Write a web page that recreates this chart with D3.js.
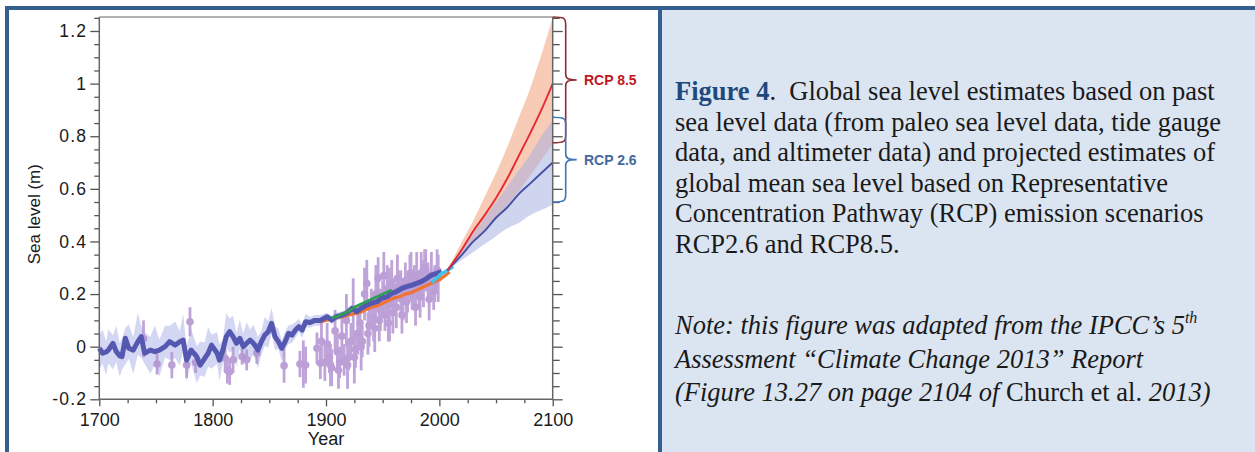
<!DOCTYPE html>
<html><head><meta charset="utf-8">
<script src="https://cdn.jsdelivr.net/npm/d3@7/dist/d3.min.js"></script>
<style>
html,body{margin:0;padding:0;background:#fff;}
svg{display:block;}
</style></head>
<body>
<svg id="c" width="1255" height="452"></svg>
<script>
// ---------- DATA ----------
const yMajorTicks = [-0.2, 0, 0.2, 0.4, 0.6, 0.8, 1, 1.2];
const xMajorTicks = [1700, 1800, 1900, 2000, 2100];

// Reconstruction (thick blue line) with uncertainty band
const jevYears = [1700,1703,1706,1708,1712,1715,1718,1720,1723,1726,1730,1734,1737,1740,1745,1749,1753,1758,1762,1767,1771,1774,1777,1781,1786,1789,1793,1796,1799,1804,1806,1809,1812,1815,1818,1821,1824,1827,1830,1833,1836,1840,1843,1846,1849,1852,1855,1858,1861,1864,1867,1870,1873,1876,1879,1882,1886,1890,1895,1901,1905,1909,1914,1918,1923,1927,1931,1936,1940,1945,1949,1954,1958,1962,1967,1971,1976,1980,1984,1989,1993,1998,2002];
const jevVals = [-0.006,-0.025,-0.02,-0.013,0.013,-0.019,-0.035,-0.038,0.032,-0.006,
 -0.013,0.019,0.038,-0.025,-0.013,-0.019,-0.013,0.0,0.019,0.006,
 0.019,0.025,-0.051,-0.013,-0.038,-0.07,-0.044,-0.025,0.006,-0.025,
 -0.051,-0.013,0.038,0.057,0.038,0.013,0.032,0.0,0.013,0.025,
 0.013,-0.013,0.019,0.044,0.057,0.089,0.038,0.019,-0.006,0.019,
 0.051,0.044,0.063,0.076,0.063,0.095,0.092,0.1,0.1,0.114,
 0.101,0.114,0.12,0.127,0.146,0.133,0.146,0.158,0.165,0.171,
 0.184,0.19,0.203,0.209,0.222,0.228,0.234,0.241,0.247,0.26,
 0.272,0.279,0.285];
// band offsets above and below the line
const jevBandUp = [0.05,0.09,0.04,0.08,0.03,0.10,0.05,0.07,0.04,0.09,
 0.05,0.11,0.04,0.08,0.05,0.10,0.04,0.08,0.06,0.09,
 0.04,0.10,0.05,0.08,0.04,0.09,0.06,0.10,0.04,0.08,
 0.06,0.04,0.09,0.05,0.08,0.04,0.07,0.05,0.08,0.04,
 0.07,0.05,0.04,0.07,0.04,0.06,0.04,0.05,0.03,0.04,
 0.03,0.04,0.03,0.03,0.02,0.03,0.02,0.02,0.02,0.015,
 0.015,0.015,0.015,0.015,0.015,0.015,0.015,0.015,0.015,0.015,
 0.015,0.015,0.015,0.015,0.015,0.015,0.015,0.015,0.015,0.015,
 0.015,0.015,0.015];
const jevBandDn = [0.08,0.04,0.09,0.05,0.10,0.04,0.08,0.05,0.10,0.04,
 0.09,0.05,0.08,0.04,0.09,0.05,0.10,0.04,0.07,0.05,
 0.09,0.04,0.08,0.05,0.10,0.04,0.07,0.05,0.09,0.04,
 0.08,0.05,0.04,0.08,0.05,0.09,0.04,0.07,0.05,0.08,
 0.04,0.07,0.05,0.04,0.06,0.04,0.05,0.03,0.05,0.03,
 0.04,0.03,0.03,0.02,0.03,0.02,0.02,0.02,0.02,0.015,
 0.015,0.015,0.015,0.015,0.015,0.015,0.015,0.015,0.015,0.015,
 0.015,0.015,0.015,0.015,0.015,0.015,0.015,0.015,0.015,0.015,
 0.015,0.015,0.015];

// Paleo (salt-marsh) points with error bars
const paleoYears = [1739,1751,1764,1777,1780,1785,1811,1813,1815,1818,1826,1830,1839,1863,1877,1880,1882,1892,1895,
 1896,1899,1901,1903,1905,1908,1910,1912,1914,1916,1918,1920,1922,1924,1926,1928,1930,1932,1934,1936,1938,1940,1942,1944,1946,1948,1950,1952,1954,1956,1958,1960,1962,1964,1966,1968,1970,1972,1974,1976,1978,1980,1982,1984,1986,1988,1990,1993,1996,1999,
 1904,1911,1919,1925,1931,1937,1943,
 1947,1951,1955,1959,1963,1967,1971,1975,1979,1983,1987,1991,1995,1998];
const paleoVals = [0.03,-0.066,-0.07,-0.07,0.095,-0.06,-0.044,-0.09,-0.095,-0.05,-0.038,-0.05,-0.025,-0.072,-0.066,-0.066,-0.07,-0.006,-0.063,
 0.02,-0.06,0.01,-0.04,-0.08,0.06,-0.02,-0.06,0.04,-0.05,0.10,-0.04,0.02,0.14,-0.01,0.05,0.09,0.02,0.20,0.24,0.08,0.15,0.11,0.20,0.26,0.14,0.18,0.12,0.22,0.16,0.24,0.19,0.15,0.23,0.20,0.18,0.25,0.21,0.26,0.20,0.23,0.27,0.22,0.28,0.24,0.29,0.25,0.27,0.24,0.26,
 -0.07,-0.09,-0.07,-0.04,0.0,0.05,0.07,
 0.10,0.27,0.09,0.13,0.26,0.12,0.17,0.28,0.15,0.19,0.30,0.18,0.21,0.29];
const paleoErr = [0.07,0.04,0.05,0.05,0.055,0.04,0.04,0.05,0.05,0.05,0.03,0.04,0.04,0.065,0.05,0.09,0.07,0.06,0.06,
 0.09,0.07,0.08,0.06,0.07,0.08,0.07,0.06,0.09,0.06,0.10,0.05,0.07,0.12,0.07,0.08,0.06,0.06,0.10,0.09,0.08,0.07,0.09,0.11,0.08,0.08,0.07,0.06,0.09,0.14,0.09,0.07,0.08,0.06,0.09,0.08,0.07,0.08,0.09,0.06,0.08,0.09,0.07,0.08,0.09,0.08,0.07,0.09,0.07,0.09,
 0.08,0.07,0.09,0.10,0.09,0.08,0.09,
 0.08,0.09,0.07,0.08,0.09,0.07,0.08,0.08,0.07,0.08,0.07,0.08,0.07,0.08];

// Tide gauge reconstructions
const greenYears = [1905,1910,1915,1920,1925,1930,1935,1940,1945,1950,1955,1958];
const greenVals  = [0.11,0.115,0.125,0.135,0.15,0.16,0.17,0.18,0.19,0.2,0.21,0.215];
const orangeYears = [1885,1890,1895,1900,1905,1910,1915,1920,1925,1930,1935,1940,1945,1950,1955,1960,1965,1970,1975,1980,1985,1990,1995,2000,2005,2009];
const orangeVals  = [0.09,0.1,0.095,0.1,0.105,0.11,0.115,0.12,0.125,0.13,0.14,0.15,0.155,0.165,0.175,0.185,0.19,0.2,0.205,0.215,0.225,0.235,0.245,0.255,0.27,0.285];
// Satellite altimetry
const cyanYears = [1993,1995,1997,1999,2001,2003,2005,2007,2009,2011,2012];
const cyanVals  = [0.245,0.25,0.26,0.265,0.275,0.28,0.285,0.29,0.295,0.3,0.305];

// Projections
const projYears = [2007,2020,2030,2040,2050,2060,2070,2080,2090,2100];
const rcp85Mid = [0.29,0.37,0.44,0.50,0.565,0.64,0.725,0.81,0.90,1.00];
const rcp85Hi  = [0.29,0.40,0.48,0.57,0.66,0.76,0.87,0.98,1.11,1.25];
const rcp85Lo  = [0.29,0.35,0.40,0.44,0.49,0.54,0.59,0.65,0.71,0.77];
const rcp26Mid = [0.29,0.35,0.40,0.44,0.49,0.53,0.58,0.62,0.66,0.70];
const rcp26Hi  = [0.29,0.37,0.43,0.49,0.55,0.61,0.67,0.73,0.80,0.86];
const rcp26Lo  = [0.29,0.33,0.36,0.39,0.42,0.45,0.47,0.50,0.52,0.54];

// Braces (likely range at 2100)
const braceNames = ["RCP 8.5", "RCP 2.6"];
const braceLo = [0.775, 0.55];
const braceHi = [1.253, 0.872];

// ---------- DRAW ----------
const svg = d3.select("#c");
const x = d3.scaleLinear().domain([1700, 2100]).range([99.3, 552.7]);
const y = d3.scaleLinear().domain([-0.2, 1.2]).range([399.3, 31]);
const yTop = 1.253;
const SANS = "Liberation Sans, Arial, Helvetica, sans-serif";
const SERIF = "Liberation Serif, 'Times New Roman', serif";

// frame / panels
svg.append("rect").attr("x",0).attr("y",0).attr("width",1255).attr("height",452).attr("fill","#fff");
svg.append("rect").attr("x",662).attr("y",10).attr("width",593).attr("height",442).attr("fill","#dbe5f1");
svg.append("rect").attr("x",5).attr("y",6).attr("width",1250).attr("height",4).attr("fill","#365f91");
svg.append("rect").attr("x",5).attr("y",6).attr("width",4).attr("height",446).attr("fill","#365f91");
svg.append("rect").attr("x",658).attr("y",6).attr("width",4).attr("height",446).attr("fill","#365f91");

const plot = svg.append("g");

// reconstruction band
const jev = jevYears.map((d,i)=>({yr:d, v:jevVals[i], up:jevBandUp[i], dn:jevBandDn[i]}));
plot.append("path").datum(jev)
  .attr("d", d3.area().x(d=>x(d.yr)).y0(d=>y(d.v-d.dn)).y1(d=>y(d.v+d.up)))
  .attr("fill","#cdd0f1").attr("opacity",0.85);

// paleo error bars
const paleo = paleoYears.map((d,i)=>({yr:d, v:paleoVals[i], e:paleoErr[i]}));
const pg = plot.append("g").attr("opacity",0.85);
pg.selectAll("line").data(paleo).join("line")
  .attr("x1",d=>x(d.yr)).attr("x2",d=>x(d.yr))
  .attr("y1",d=>y(d.v-d.e)).attr("y2",d=>y(d.v+d.e))
  .attr("stroke","#b595d3").attr("stroke-width",2.8);
pg.selectAll("circle").data(paleo).join("circle")
  .attr("cx",d=>x(d.yr)).attr("cy",d=>y(d.v)).attr("r",3.8)
  .attr("fill","#b08fcf");

// projections bands
const proj = projYears.map((d,i)=>({yr:d, m85:rcp85Mid[i], h85:rcp85Hi[i], l85:rcp85Lo[i], m26:rcp26Mid[i], h26:rcp26Hi[i], l26:rcp26Lo[i]}));
plot.append("path").datum(proj)
  .attr("d", d3.area().curve(d3.curveMonotoneX).x(d=>x(d.yr)).y0(d=>y(d.l85)).y1(d=>y(d.h85)))
  .attr("fill","#f6bea5").attr("opacity",0.8);
plot.append("path").datum(proj)
  .attr("d", d3.area().curve(d3.curveMonotoneX).x(d=>x(d.yr)).y0(d=>y(d.l26)).y1(d=>y(d.h26)))
  .attr("fill","#a7b0e2").attr("opacity",0.55);

const lineOf = (ys, vs) => ys.map((d,i)=>({yr:d, v:vs[i]}));
const ln = d3.line().x(d=>x(d.yr)).y(d=>y(d.v));
const lnS = d3.line().curve(d3.curveMonotoneX).x(d=>x(d.yr)).y(d=>y(d.v));

plot.append("path").datum(lineOf(orangeYears, orangeVals)).attr("d", ln)
  .attr("fill","none").attr("stroke","#f07331").attr("stroke-width",3.2);
plot.append("path").datum(jev).attr("d", ln)
  .attr("fill","none").attr("stroke","#5558b0").attr("stroke-width",5).attr("stroke-linejoin","round");
plot.append("path").datum(lineOf(greenYears, greenVals)).attr("d", ln)
  .attr("fill","none").attr("stroke","#2f9e55").attr("stroke-width",2.8);
plot.append("path").datum(lineOf(cyanYears, cyanVals)).attr("d", ln)
  .attr("fill","none").attr("stroke","#41c4ea").attr("stroke-width",3.4);

plot.append("path").datum(lineOf(projYears, rcp26Mid)).attr("d", lnS)
  .attr("fill","none").attr("stroke","#4450a6").attr("stroke-width",1.9);
plot.append("path").datum(lineOf(projYears, rcp85Mid)).attr("d", lnS)
  .attr("fill","none").attr("stroke","#e62a33").attr("stroke-width",1.9);

// axes
const fmt = d => d === 0 ? "0" : (Number.isInteger(d) ? String(d) : d.toFixed(1));
const yMinor = d3.range(-0.2, 1.2501, 0.05).map(v=>+v.toFixed(2)).filter(v=>!yMajorTicks.some(m=>Math.abs(m-v)<1e-6));
const xMinor = d3.range(1700, 2101, 25).filter(v=>!xMajorTicks.includes(v));

const axisColor = "#666";
function styleAxis(g){
  g.selectAll(".domain").remove();
  g.selectAll(".tick line").attr("stroke","#555").attr("stroke-width",1.3);
}
// left
svg.append("g").attr("transform",`translate(${x(1700)},0)`)
  .call(d3.axisLeft(y).tickValues(yMajorTicks).tickFormat(fmt).tickSize(9).tickPadding(3))
  .call(styleAxis)
  .selectAll("text").attr("font-family",SANS).attr("font-size",17.5).attr("fill","#1a1a1a").attr("letter-spacing","1.2px");
svg.append("g").attr("transform",`translate(${x(1700)},0)`)
  .call(d3.axisLeft(y).tickValues(yMinor).tickFormat("").tickSize(5)).call(styleAxis);
// right
svg.append("g").attr("transform",`translate(${x(2100)},0)`)
  .call(d3.axisRight(y).tickValues(yMajorTicks).tickFormat("").tickSize(10)).call(styleAxis);
svg.append("g").attr("transform",`translate(${x(2100)},0)`)
  .call(d3.axisRight(y).tickValues(yMinor).tickFormat("").tickSize(7)).call(styleAxis);
// bottom
svg.append("g").attr("transform",`translate(0,${y(-0.2)})`)
  .call(d3.axisBottom(x).tickValues(xMajorTicks).tickFormat(d3.format("d")).tickSize(7).tickPadding(7))
  .call(styleAxis)
  .selectAll("text").attr("font-family",SANS).attr("font-size",18).attr("fill","#1a1a1a");
svg.append("g").attr("transform",`translate(0,${y(-0.2)})`)
  .call(d3.axisBottom(x).tickValues(xMinor).tickFormat("").tickSize(4)).call(styleAxis);
// frame lines
const fr = svg.append("g").attr("stroke",axisColor).attr("stroke-width",1.5).attr("fill","none");
fr.append("line").attr("x1",x(1700)).attr("x2",x(1700)).attr("y1",y(yTop)).attr("y2",y(-0.2));
fr.append("line").attr("x1",x(2100)).attr("x2",x(2100)).attr("y1",y(yTop)).attr("y2",y(-0.2));
fr.append("line").attr("x1",x(1700)).attr("x2",x(2100)).attr("y1",y(yTop)).attr("y2",y(yTop)).attr("stroke","#999");
fr.append("line").attr("x1",x(1700)).attr("x2",x(2100)).attr("y1",y(-0.2)).attr("y2",y(-0.2));

// axis titles
svg.append("text").attr("x",(x(1700)+x(2100))/2).attr("y",445).attr("text-anchor","middle")
  .attr("font-family",SANS).attr("font-size",18).attr("fill","#1a1a1a").text("Year");
svg.append("text").attr("transform",`translate(40,${(y(yTop)+y(-0.2))/2 + 6}) rotate(-90)`).attr("text-anchor","middle")
  .attr("font-family",SANS).attr("font-size",17).attr("fill","#1a1a1a").text("Sea level (m)");

// braces
const braceColors = ["#8e2b36","#3c76b8"];
const labelColors = ["#c0171f","#46699d"];
braceNames.forEach((name,i)=>{
  const x0 = x(2100), yt = y(braceHi[i]), yb = y(braceLo[i]), ym = (yt+yb)/2;
  const w = 13, tip = 11;
  const xv = x0 + w;
  const p = `M${x0},${yt} C${x0+w*0.9},${yt} ${xv},${yt+1} ${xv},${yt+8} L${xv},${ym-6} C${xv},${ym-1} ${xv+3},${ym} ${xv+tip},${ym} C${xv+3},${ym} ${xv},${ym+1} ${xv},${ym+6} L${xv},${yb-8} C${xv},${yb-1} ${x0+w*0.9},${yb} ${x0},${yb}`;
  svg.append("path").attr("d",p).attr("fill","none").attr("stroke",braceColors[i]).attr("stroke-width",1.6);
  svg.append("text").attr("x",584).attr("y",ym+5).attr("font-family",SANS)
    .attr("font-weight","bold").attr("font-size",14).attr("fill",labelColors[i]).text(name);
});

// caption
const FS = 26.5;
const cap = svg.append("text").attr("font-family",SERIF).attr("font-size",FS).attr("fill","#1a1a1a").attr("xml:space","preserve").style("white-space","pre");
const capLines = [
  null,
  "sea level data (from paleo sea level data, tide gauge",
  "data, and altimeter data) and projected estimates of",
  "global mean sea level based on Representative",
  "Concentration Pathway (RCP) emission scenarios",
  "RCP2.6 and RCP8.5."
];
const capY0 = 100, capDy = 30.6, capX = 675;
const l1 = cap.append("tspan").attr("x",capX).attr("y",capY0);
l1.append("tspan").attr("font-weight","bold").attr("fill","#1f497d").text("Figure 4");
l1.append("tspan").text(".\u00a0 Global sea level estimates based on past");
capLines.forEach((t,i)=>{ if(t) cap.append("tspan").attr("x",capX).attr("y",capY0+i*capDy).text(t); });

const note = svg.append("text").attr("font-family",SERIF).attr("font-size",FS).attr("fill","#1a1a1a").attr("font-style","italic");
const n1 = note.append("tspan").attr("x",capX).attr("y",334);
n1.append("tspan").text("Note: this figure was adapted from the IPCC\u2019s 5");
n1.append("tspan").attr("font-size",16).attr("dy",-11).text("th");
note.append("tspan").attr("x",capX).attr("y",367.5).text("Assessment \u201cClimate Change 2013\u201d Report");
const n3 = note.append("tspan").attr("x",capX).attr("y",401);
n3.append("tspan").text("(Figure 13.27 on page 2104 of ");
n3.append("tspan").attr("font-style","normal").text("Church et al.");
n3.append("tspan").text(" 2013)");
</script>
</body></html>
